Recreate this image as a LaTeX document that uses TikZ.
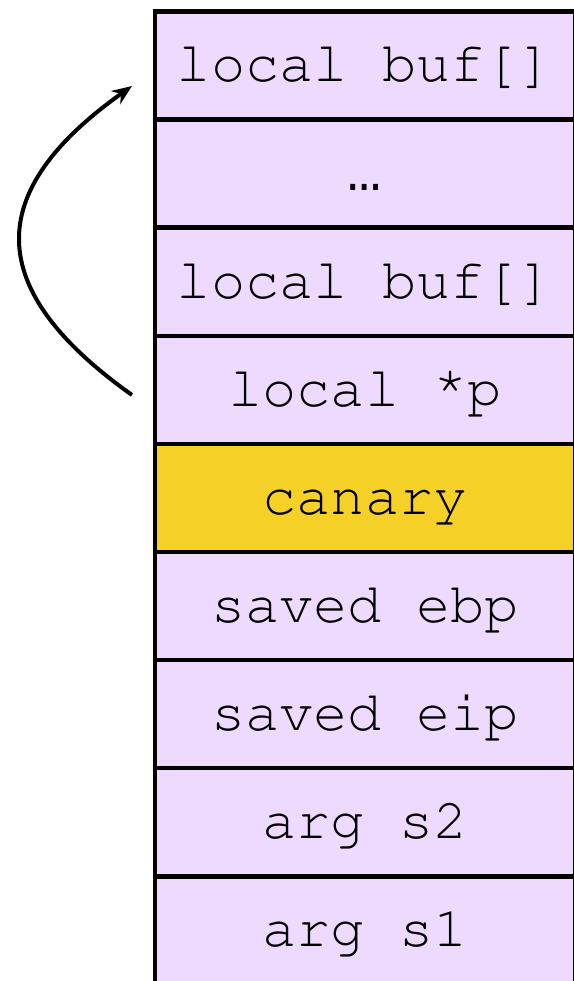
\documentclass[tikz,border=0pt]{standalone}
\usepackage{fontspec}
\newfontfamily\dotsfont{Liberation Mono}
\usetikzlibrary{positioning,arrows.meta}
\definecolor{stackfill}{HTML}{EEDAFE}
\definecolor{canaryfill}{HTML}{F5D027}
\tikzset{
  cell/.style={draw, line width=4.5pt, fill=stackfill, rectangle, outer sep=0pt,
    minimum width=420pt, minimum height=108.1pt, inner sep=0pt,
    text height=45pt, text depth=12pt,
    font=\fontencoding{T1}\fontfamily{pcr}\fontsize{57}{57}\selectfont},
}
\begin{document}
\begin{tikzpicture}[x=1pt,y=-1pt]
\useasboundingbox (0,0) rectangle (573,981);

% stack frame, top to bottom
\node[cell] (buftop) at (365,65.5) {local buf[]};
\node[cell, below=0pt of buftop, font=\dotsfont\fontsize{57}{57}\selectfont] (dots) {…};
\node[cell, below=0pt of dots] (bufbot) {local buf[]};
\node[cell, below=0pt of bufbot] (ptr) {local \raisebox{11pt}{*}p};
\node[cell, below=0pt of ptr, fill=canaryfill] (canary) {canary};
\node[cell, below=0pt of canary] (ebp) {saved ebp};
\node[cell, below=0pt of ebp] (eip) {saved eip};
\node[cell, below=0pt of eip] (argtwo) {arg s2};
\node[cell, below=0pt of argtwo] (argone) {arg s1};

% overflow through the pointer
\coordinate (from) at (132,395);
\coordinate (to) at (132,86);
\draw[line width=4pt, -{Stealth[length=20pt,width=16pt]}]
  (from) .. controls (-17,289) and (-17,192) .. (to);

\end{tikzpicture}
\end{document}
